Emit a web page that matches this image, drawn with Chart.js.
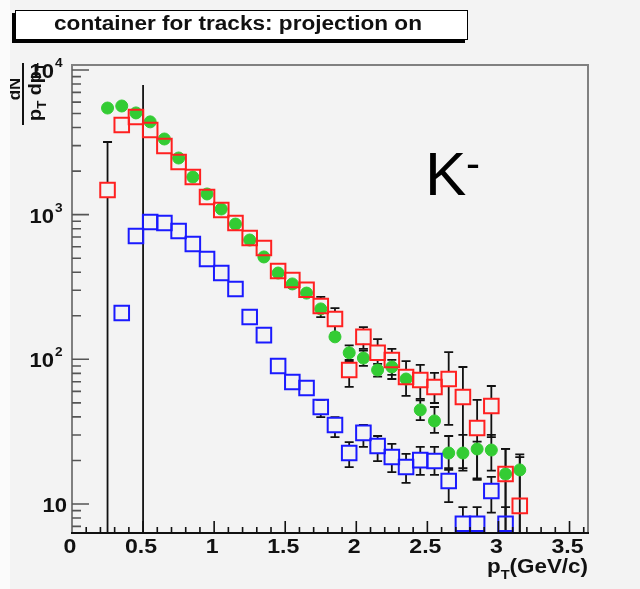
<!DOCTYPE html>
<html>
<head>
<meta charset="utf-8">
<script src="https://cdn.jsdelivr.net/npm/chart.js@4.4.1/dist/chart.umd.min.js"></script>
<style>
  html, body { margin: 0; padding: 0; background: #f3f3f3; }
  canvas { display: block; }
</style>
</head>
<body>
<canvas id="spectrum" width="640" height="589"></canvas>
<script>
// pT bin centres (GeV/c)
const ptBins = [0.25, 0.35, 0.45, 0.55, 0.65, 0.75, 0.85, 0.95, 1.05, 1.15,
                1.25, 1.35, 1.45, 1.55, 1.65, 1.75, 1.85, 1.95, 2.05, 2.15,
                2.25, 2.35, 2.45, 2.55, 2.65, 2.75, 2.85, 2.95, 3.05, 3.15];

// green filled circles
const greenYield = [5460, 5640, 5050, 4380, 3335, 2464, 1820, 1390, 1094, 861,
                    668, 510, 395, 332, 287, 223, 143, 111, 102, 84.4,
                    88.5, 73.1, 44.7, 37.5, 22.5, 22.5, 24.0, 23.6, 16.1, 17.2];
const greenLo = [null, null, null, null, null, null, null, null, null, null,
                 null, null, null, null, null, null, null, 98.9, 90, 76,
                 78, null, 38, 31, 17.2, 17, 15, 17, 1, 1];
const greenHi = [null, null, null, null, null, null, null, null, null, null,
                 null, null, null, null, null, null, null, 125, 115, 93,
                 99, null, 52, 46.8, 29.5, 30, 27, 30, 24, 22];

// red open squares
const redYield = [1480, 4170, 4730, 3850, 2983, 2312, 1820, 1325, 1077, 876,
                  690, 589, 408, 353, 303, 234, 190, 84.4, 143, 111,
                  98.9, 75.5, 72.0, 64.4, 73.1, 54.9, 33.5, 47.6, 16.1, 9.7];
const redLo = [1, null, null, null, null, null, null, null, null, null,
               null, null, null, null, null, 196, 152, 64.4, 118, 81.7,
               73.1, 55.8, 53.2, 49.9, 35.2, 17.7, 14.7, 29.0, 1, 1];
const redHi = [3180, null, null, null, null, null, null, null, null, null,
               null, null, null, null, null, 270, 226, 96, 167, 138,
               118, 97.3, 91.4, 80.5, 112, 88.5, 52.4, 65.4, 24.0, 21.1];

// blue open squares
const blueYield = [null, 209, 712, 889, 876, 771, 627, 494, 395, 306,
                   196, 147, 90, 69.7, 63.4, 46.8, 35.2, 22.5, 31.0, 25.2,
                   21.1, 18.0, 20.1, 19.8, 14.4, 7.3, 7.3, 12.3, 7.3, null];
const blueLo = [null, null, null, null, null, null, null, null, null, null,
                null, null, null, null, null, 39.9, 29.0, 18.0, 24.8, 19.8,
                16.6, 14.0, 15.9, 15.9, 10.3, 1, 1, 8.7, 1, null];
const blueHi = [null, null, null, null, null, null, null, null, null, null,
                null, null, null, null, null, 52.4, 39.9, 26.8, 35.2, 29.5,
                26.0, 22.2, 24.8, 24.8, 17.7, 9.5, 9.5, 15.4, 9.5, null];

// lone vertical error line at the low-pT edge
const edgeLineX = 0.5;
const edgeLineTop = 7870;
const edgeLineBottom = 1;

// axes
const xRange = [0, 3.63];
const yRange = [6.3, 10830];
const xTickValues = [0, 0.5, 1, 1.5, 2, 2.5, 3, 3.5];
const xTickLabels = ['0', '0.5', '1', '1.5', '2', '2.5', '3', '3.5'];
const yDecades = [10, 100, 1000, 10000];
const yDecadeExp = ['', '2', '3', '4'];

const titleText = 'container for tracks: projection on';
const particleLabel = 'K';
const particleCharge = '-';

const BOLD = '"Liberation Sans", Arial, Helvetica, sans-serif';

function toPoints(vals) {
  const out = [];
  vals.forEach((v, i) => { if (v != null) out.push({ x: ptBins[i], y: v }); });
  return out;
}

// draw text with a horizontal stretch factor
function stretchText(ctx, text, x, y, sx, align) {
  const w = ctx.measureText(text).width * sx;
  let x0 = x;
  if (align === 'center') x0 = x - w / 2;
  else if (align === 'right') x0 = x - w;
  ctx.save();
  ctx.translate(x0, y);
  ctx.scale(sx, 1);
  ctx.textAlign = 'left';
  ctx.fillText(text, 0, 0);
  ctx.restore();
  return w;
}

// text pieces with subscripts, drawn in the current transform starting at (x, y)
function richWidth(ctx, parts, size, sx) {
  let w = 0;
  parts.forEach(p => {
    ctx.font = 'bold ' + (p.sub ? Math.round(size * 0.65) : size) + 'px ' + BOLD;
    w += ctx.measureText(p.t).width * sx;
  });
  return w;
}
function drawRich(ctx, parts, x, y, size, sx) {
  let cx = x;
  parts.forEach(p => {
    const s = p.sub ? Math.round(size * 0.65) : size;
    ctx.font = 'bold ' + s + 'px ' + BOLD;
    cx += stretchText(ctx, p.t, cx, y + (p.sub ? size * 0.3 : 0), sx, 'left');
  });
}

const backdrop = {
  id: 'backdrop',
  beforeDraw(chart) {
    const { ctx, width, height } = chart;
    ctx.save();
    ctx.fillStyle = '#f3f3f3';
    ctx.fillRect(0, 0, width, height);
    ctx.restore();
  }
};

const errorBars = {
  id: 'errorBars',
  beforeDatasetsDraw(chart) {
    const { ctx, chartArea: a, scales: { x, y } } = chart;
    ctx.save();
    ctx.beginPath();
    ctx.rect(a.left, a.top, a.right - a.left, a.bottom - a.top);
    ctx.clip();
    ctx.strokeStyle = '#111';
    ctx.lineWidth = 1.8;
    const cap = 4.5;

    // edge line
    const ex = x.getPixelForValue(edgeLineX);
    ctx.beginPath();
    ctx.moveTo(ex, y.getPixelForValue(edgeLineTop));
    ctx.lineTo(ex, y.getPixelForValue(edgeLineBottom));
    ctx.stroke();

    const sets = [
      { v: greenYield, lo: greenLo, hi: greenHi, half: 6 },
      { v: redYield, lo: redLo, hi: redHi, half: 7 },
      { v: blueYield, lo: blueLo, hi: blueHi, half: 7 }
    ];
    sets.forEach(s => {
      s.v.forEach((val, i) => {
        if (val == null) return;
        const px = x.getPixelForValue(ptBins[i]);
        const py = y.getPixelForValue(val);
        ctx.beginPath();
        if (s.hi[i] != null) {
          const yh = y.getPixelForValue(s.hi[i]);
          if (yh < py - s.half) {
            ctx.moveTo(px, py - s.half); ctx.lineTo(px, yh);
            ctx.moveTo(px - cap, yh); ctx.lineTo(px + cap, yh);
          }
        }
        if (s.lo[i] != null) {
          const yl = y.getPixelForValue(s.lo[i]);
          if (yl > py + s.half) {
            ctx.moveTo(px, py + s.half); ctx.lineTo(px, yl);
            ctx.moveTo(px - cap, yl); ctx.lineTo(px + cap, yl);
          }
        }
        ctx.stroke();
      });
    });
    ctx.restore();
  }
};

const frameAndText = {
  id: 'frameAndText',
  afterDraw(chart) {
    const { ctx, chartArea: a, scales: { x, y } } = chart;
    ctx.save();

    // frame
    ctx.strokeStyle = '#808080';
    ctx.lineWidth = 2;
    ctx.strokeRect(a.left, a.top, a.right - a.left, a.bottom - a.top);
    ctx.strokeStyle = '#111';
    ctx.beginPath();
    ctx.moveTo(a.left - 1, a.bottom); ctx.lineTo(a.right + 1, a.bottom);
    ctx.stroke();

    // x ticks every 0.1, long every 0.5
    ctx.lineWidth = 1.6;
    ctx.strokeStyle = '#111';
    ctx.beginPath();
    for (let k = 1; k <= 36; k++) {
      const v = k / 10;
      if (v > xRange[1]) break;
      const px = x.getPixelForValue(v);
      const len = (k % 5 === 0) ? 12 : 6;
      ctx.moveTo(px, a.bottom); ctx.lineTo(px, a.bottom - len);
    }
    ctx.stroke();

    // y ticks: decades long, 2..9 short
    ctx.strokeStyle = '#555';
    ctx.lineWidth = 1.6;
    ctx.beginPath();
    [1, 10, 100, 1000, 10000].forEach(d => {
      for (let m = 1; m <= 9; m++) {
        const v = d * m;
        if (v < yRange[0] || v > yRange[1]) continue;
        const py = y.getPixelForValue(v);
        const len = m === 1 ? 17 : 9;
        ctx.moveTo(a.left, py); ctx.lineTo(a.left + len, py);
      }
    });
    ctx.stroke();

    ctx.fillStyle = '#111';
    ctx.textBaseline = 'alphabetic';

    // x tick labels
    ctx.font = 'bold 21px ' + BOLD;
    xTickValues.forEach((v, i) => {
      const px = x.getPixelForValue(v);
      stretchText(ctx, xTickLabels[i], px - 2, 553, 1.1, 'center');
    });

    // y tick labels
    yDecades.forEach((d, i) => {
      const py = y.getPixelForValue(d);
      ctx.font = 'bold 21px ' + BOLD;
      if (yDecadeExp[i] === '') {
        stretchText(ctx, '10', 67, py + 8, 1.05, 'right');
      } else {
        stretchText(ctx, '10', 54, py + 8, 1.05, 'right');
        ctx.font = 'bold 13px ' + BOLD;
        stretchText(ctx, yDecadeExp[i], 55, py - 3, 1.05, 'left');
      }
    });

    // x axis title: p_T(GeV/c), right aligned to the frame
    const xt = [{ t: 'p' }, { t: 'T', sub: true }, { t: '(GeV/c)' }];
    const xtw = richWidth(ctx, xt, 20, 1.12);
    drawRich(ctx, xt, a.right - xtw, 573, 20, 1.12);

    // y axis title: dN / (p_T dp_T), rotated
    ctx.save();
    ctx.translate(20, 89);
    ctx.rotate(-Math.PI / 2);
    ctx.font = 'bold 17px ' + BOLD;
    stretchText(ctx, 'dN', 0, 0, 1.0, 'center');
    ctx.restore();
    ctx.fillRect(22, 63, 2, 62);
    ctx.save();
    ctx.translate(41, 92);
    ctx.rotate(-Math.PI / 2);
    const yt = [{ t: 'p' }, { t: 'T', sub: true }, { t: ' dp' }, { t: 'T', sub: true }];
    const ytw = richWidth(ctx, yt, 18, 1.1);
    drawRich(ctx, yt, -ytw / 2, 0, 18, 1.1);
    ctx.restore();

    // particle label
    ctx.font = '62px ' + BOLD;
    ctx.fillStyle = '#000';
    ctx.textAlign = 'left';
    ctx.fillText(particleLabel, 425, 195);
    ctx.font = '42px ' + BOLD;
    ctx.fillText(particleCharge, 466, 178);

    // title box with shadow
    ctx.fillStyle = '#000';
    ctx.fillRect(12, 13, 453, 30);
    ctx.fillStyle = '#fff';
    ctx.fillRect(15, 10, 453, 30);
    ctx.strokeStyle = '#000';
    ctx.lineWidth = 1;
    ctx.strokeRect(15.5, 10.5, 452, 29);
    ctx.fillStyle = '#111';
    ctx.font = 'bold 20px ' + BOLD;
    stretchText(ctx, titleText, 238, 30, 1.13, 'center');

    // pad edge
    ctx.fillStyle = '#fbfbfb';
    ctx.fillRect(0, 0, 10, chart.height);
    ctx.restore();
  }
};

new Chart(document.getElementById('spectrum'), {
  type: 'scatter',
  data: {
    datasets: [
      {
        label: 'blue',
        data: toPoints(blueYield),
        pointStyle: 'rect',
        pointRadius: 10.3,
        borderWidth: 2,
        borderColor: '#1a1aff',
        backgroundColor: 'rgba(0,0,0,0)'
      },
      {
        label: 'red',
        data: toPoints(redYield),
        pointStyle: 'rect',
        pointRadius: 10.3,
        borderWidth: 2,
        borderColor: '#ff2020',
        backgroundColor: 'rgba(0,0,0,0)'
      },
      {
        label: 'green',
        data: toPoints(greenYield),
        pointStyle: 'circle',
        pointRadius: 6,
        borderWidth: 1,
        borderColor: '#33cc33',
        backgroundColor: '#33cc33'
      }
    ]
  },
  options: {
    responsive: false,
    animation: false,
    events: [],
    layout: { padding: { left: 72, top: 65, right: 52, bottom: 56 } },
    scales: {
      x: { type: 'linear', min: xRange[0], max: xRange[1], display: false },
      y: { type: 'logarithmic', min: yRange[0], max: yRange[1], display: false }
    },
    plugins: { legend: { display: false }, tooltip: { enabled: false } }
  },
  plugins: [backdrop, errorBars, frameAndText]
});
</script>
</body>
</html>
